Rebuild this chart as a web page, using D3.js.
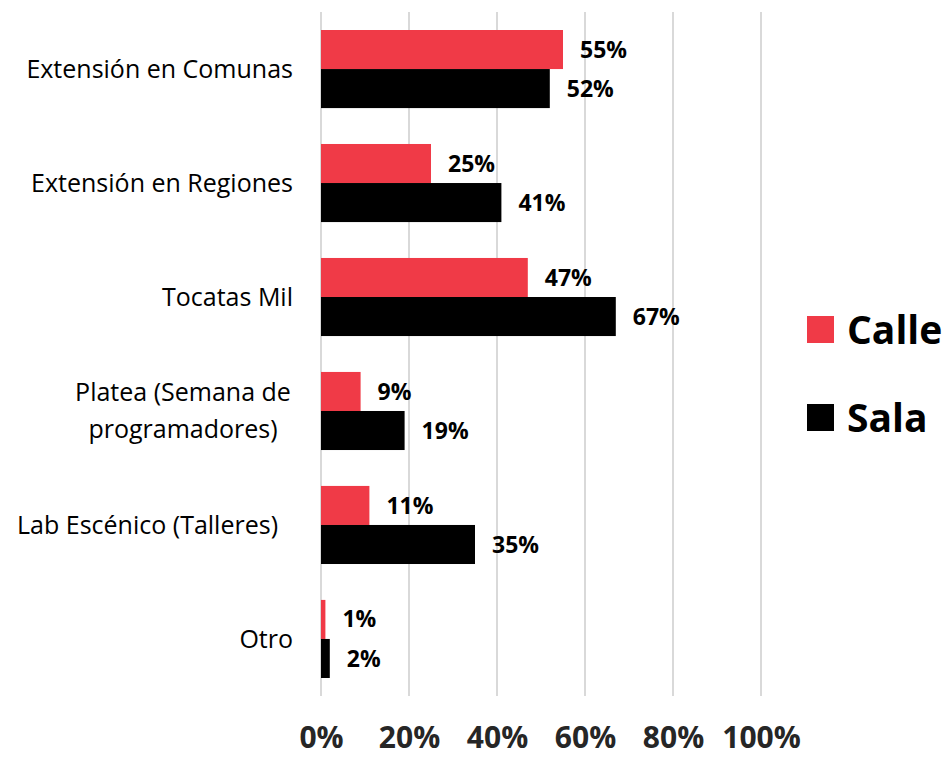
<!DOCTYPE html>
<html>
<head>
<meta charset="utf-8">
<script src="https://cdn.jsdelivr.net/npm/d3@7"></script>
<style>
  body { margin: 0; background: #fff; }
  text { font-family: "Open Sans", sans-serif; }
</style>
</head>
<body>
<div id="chart"></div>
<script>
// data
let categories = [
	['Extensión en Comunas'],
	['Extensión en Regiones'],
	['Tocatas Mil'],
	['Platea (Semana de', 'programadores)'],
	['Lab Escénico (Talleres)'],
	['Otro']
];
let calle = [55, 25, 47, 9, 11, 1];
let sala = [52, 41, 67, 19, 35, 2];
let seriesNames = ['Calle', 'Sala'];
let tickValues = [0, 20, 40, 60, 80, 100];

let width = 946,
	height = 758,
	colors = ['#f03a47', '#000000'],
	svg = d3.select('#chart').append('svg')
		.attr('width', width)
		.attr('height', height);

let x = d3.scaleLinear().domain([0, 100]).range([321, 761]);
let y = d3.scaleBand().domain(d3.range(categories.length)).range([12, 696]).paddingInner(0.315).paddingOuter(0.158);
let sub = d3.scaleBand().domain([0, 1]).range([0, y.bandwidth()]);

// gridlines
svg.append('g')
	.selectAll('line')
	.data(tickValues)
	.enter().append('line')
		.attr('x1', (d) => x(d))
		.attr('x2', (d) => x(d))
		.attr('y1', 12)
		.attr('y2', 696)
		.style('stroke', '#d9d9d9')
		.style('stroke-width', '2px');

// axis labels
let xAxis = d3.axisBottom(x)
	.tickValues(tickValues)
	.tickSize(0)
	.tickFormat((d) => d + '%');
let ax = svg.append('g')
	.attr('transform', 'translate(0,724)')
	.call(xAxis);
ax.select('.domain').remove();
ax.selectAll('text')
	.attr('font-size', '30px')
	.attr('font-weight', 'bold')
	.attr('fill', '#262626')
	.style('font-family', '"Open Sans", sans-serif');

// bars, one group per series
let series = [calle, sala];
series.forEach((vals, s) => {
	let grp = svg.append('g');
	grp.selectAll('rect')
		.data(vals)
		.enter().append('rect')
			.attr('x', x(0))
			.attr('y', (d, i) => y(i) + sub(s))
			.attr('width', (d) => x(d) - x(0))
			.attr('height', sub.bandwidth())
			.attr('fill', colors[s]);
	grp.selectAll('text')
		.data(vals)
		.enter().append('text')
			.attr('x', (d) => x(d) + 17)
			.attr('y', (d, i) => y(i) + sub(s) + sub.bandwidth() / 2)
			.attr('dy', '0.35em')
			.attr('font-size', '23px')
			.attr('font-weight', 'bold')
			.text((d) => d + '%');
});

// category labels
let cat = svg.append('g').selectAll('text')
	.data(categories)
	.enter().append('text')
		.attr('font-size', '25px')
		.attr('fill', '#000')
		.attr('y', (d, i) => y(i) + y.bandwidth() / 2);
cat.each(function(d) {
	let t = d3.select(this);
	let right = d[0].startsWith('Lab') ? 278 : 293;
	d.forEach((line, k) => {
		t.append('tspan')
			.attr('x', d.length > 1 ? 183 : right)
			.attr('text-anchor', d.length > 1 ? 'middle' : 'end')
			.attr('dy', k === 0 ? (0.35 - (d.length - 1) * 0.74) + 'em' : '1.48em')
			.text(line);
	});
});

// legend
let leg = svg.append('g').selectAll('g')
	.data(seriesNames)
	.enter().append('g')
	.attr('transform', (d, i) => 'translate(807,' + (316 + 88 * i) + ')');
leg.append('rect')
	.attr('width', 27)
	.attr('height', 27)
	.attr('fill', (d, i) => colors[i]);
leg.append('text')
	.attr('x', 40)
	.attr('y', 14)
	.attr('dy', '0.36em')
	.attr('font-size', '39px')
	.attr('font-weight', 'bold')
	.text((d) => d);
</script>
</body>
</html>
